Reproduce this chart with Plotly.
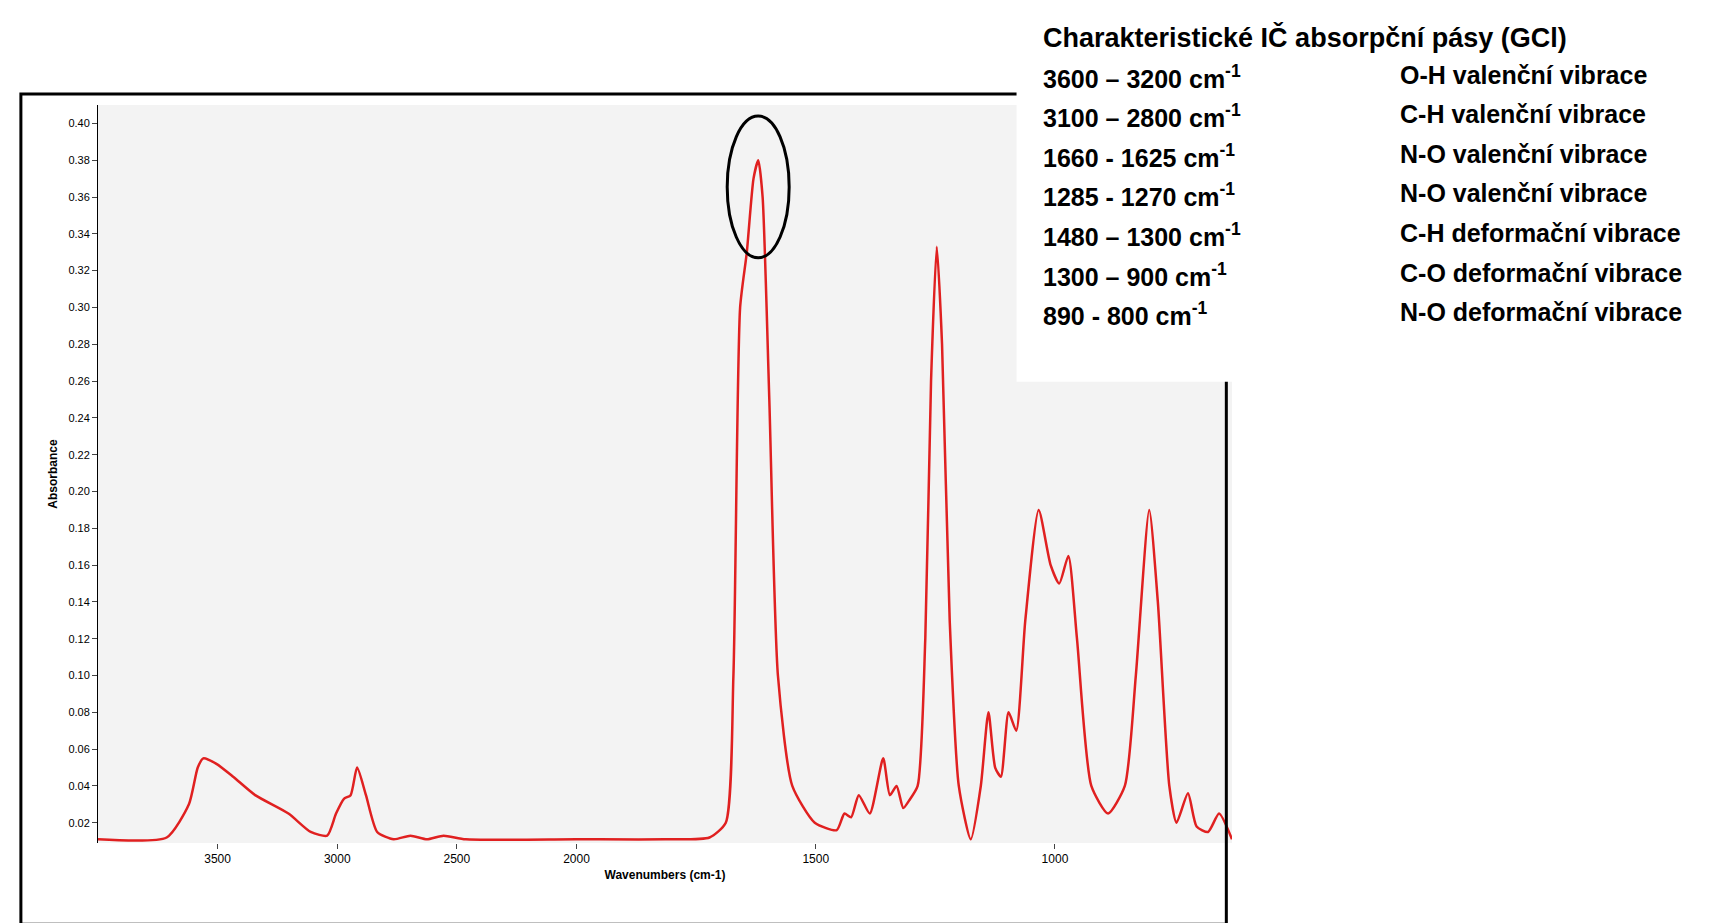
import plotly.graph_objects as go

# Data: IR spectrum (wavenumber cm-1, absorbance)
wavenumber = [4000, 3713, 3620, 3583, 3560, 3505, 3435, 3343, 3204, 3111, 3042, 3005,
              2972, 2944, 2917, 2880, 2833, 2764, 2694, 2625, 2556, 2463, 2000, 1815,
              1722, 1688, 1672, 1658, 1644, 1630, 1620, 1611, 1597, 1579, 1549, 1502,
              1456, 1440, 1426, 1410, 1387, 1359, 1345, 1331, 1317, 1305, 1287, 1271,
              1259, 1247, 1236, 1220, 1201, 1176, 1155, 1139, 1125, 1113, 1097, 1081,
              1062, 1034, 1009, 991, 972, 954, 924, 889, 854, 831, 803, 785, 761, 746,
              722, 704, 680, 657, 630]
absorbance = [0.011, 0.012, 0.03, 0.05, 0.055, 0.052, 0.045, 0.035, 0.025, 0.015, 0.013, 0.025,
              0.033, 0.035, 0.05, 0.035, 0.015, 0.011, 0.013, 0.011, 0.013, 0.011, 0.011, 0.011,
              0.012, 0.02, 0.1, 0.3, 0.33, 0.37, 0.38, 0.36, 0.25, 0.1, 0.04, 0.02,
              0.016, 0.025, 0.023, 0.035, 0.025, 0.055, 0.035, 0.04, 0.028, 0.032, 0.04, 0.12,
              0.26, 0.333, 0.28, 0.13, 0.04, 0.011, 0.04, 0.08, 0.05, 0.045, 0.08, 0.07,
              0.13, 0.19, 0.16, 0.15, 0.165, 0.12, 0.04, 0.025, 0.04, 0.1, 0.19, 0.14, 0.04, 0.02,
              0.036, 0.018, 0.015, 0.025, 0.011]

tick_wn = [3500, 3000, 2500, 2000, 1500, 1000]
y_ticks = [round(0.02 * i, 2) for i in range(1, 21)]

table_title = "Charakteristické IČ absorpční pásy (GCl)"
ranges = ["3600 – 3200 cm<sup>-1</sup>", "3100 – 2800 cm<sup>-1</sup>", "1660 - 1625 cm<sup>-1</sup>",
          "1285 - 1270 cm<sup>-1</sup>", "1480 – 1300 cm<sup>-1</sup>", "1300 – 900 cm<sup>-1</sup>",
          "890 - 800 cm<sup>-1</sup>"]
vibrations = ["O-H valenční vibrace", "C-H valenční vibrace", "N-O valenční vibrace",
              "N-O valenční vibrace", "C-H deformační vibrace", "C-O deformační vibrace",
              "N-O deformační vibrace"]


# the instrument axis is expanded 2x below 2000 cm-1
def pos(w):
    return 4000 - w if w >= 2000 else 2000 + (2000 - w) * 2


fig = go.Figure()
fig.add_trace(go.Scatter(x=[pos(w) for w in wavenumber], y=absorbance, mode="lines",
                         line=dict(color="#e02020", width=2.5, shape="spline", smoothing=0.6),
                         showlegend=False))

fig.add_shape(type="circle", xref="x", yref="y", x0=2630, x1=2889, y0=0.327, y1=0.404,
              line=dict(color="black", width=3))
fig.add_shape(type="rect", xref="paper", yref="paper", x0=-0.068, x1=0.995, y0=-0.11, y1=1.015,
              line=dict(color="black", width=3))
# white pasted box behind the table
fig.add_shape(type="rect", xref="paper", yref="paper", x0=0.81, x1=1.45, y0=0.625, y1=1.2,
              fillcolor="white", line=dict(width=0), layer="above")

fig.add_annotation(text="<b>" + table_title + "</b>", xref="paper", yref="paper",
                   x=0.832, y=1.115, xanchor="left", showarrow=False,
                   font=dict(size=27, color="black"))
for i, (r, v) in enumerate(zip(ranges, vibrations)):
    yy = 1.063 - i * 0.0537
    fig.add_annotation(text="<b>" + r + "</b>", xref="paper", yref="paper", x=0.832, y=yy,
                       xanchor="left", showarrow=False, font=dict(size=25, color="black"))
    fig.add_annotation(text="<b>" + v + "</b>", xref="paper", yref="paper", x=1.146, y=yy,
                       xanchor="left", showarrow=False, font=dict(size=25, color="black"))

fig.update_layout(
    width=1726, height=923,
    margin=dict(l=90, r=502, t=97, b=88),
    paper_bgcolor="white", plot_bgcolor="#f3f3f3",
    font=dict(family="Liberation Sans, Arial", color="black"),
    xaxis=dict(range=[0, 4740], tickvals=[pos(w) for w in tick_wn],
               ticktext=[str(w) for w in tick_wn], ticks="outside", showgrid=False,
               zeroline=False, tickfont=dict(size=12),
               title=dict(text="<b>Wavenumbers (cm-1)</b>", font=dict(size=12), standoff=5)),
    yaxis=dict(range=[0.009, 0.41], tickvals=y_ticks,
               ticktext=["%.2f" % t for t in y_ticks], ticks="outside", showgrid=False,
               zeroline=False, tickfont=dict(size=11), showline=True, linecolor="black",
               title=dict(text="<b>Absorbance</b>", font=dict(size=12), standoff=8)),
)

fig.write_html("out.html")
